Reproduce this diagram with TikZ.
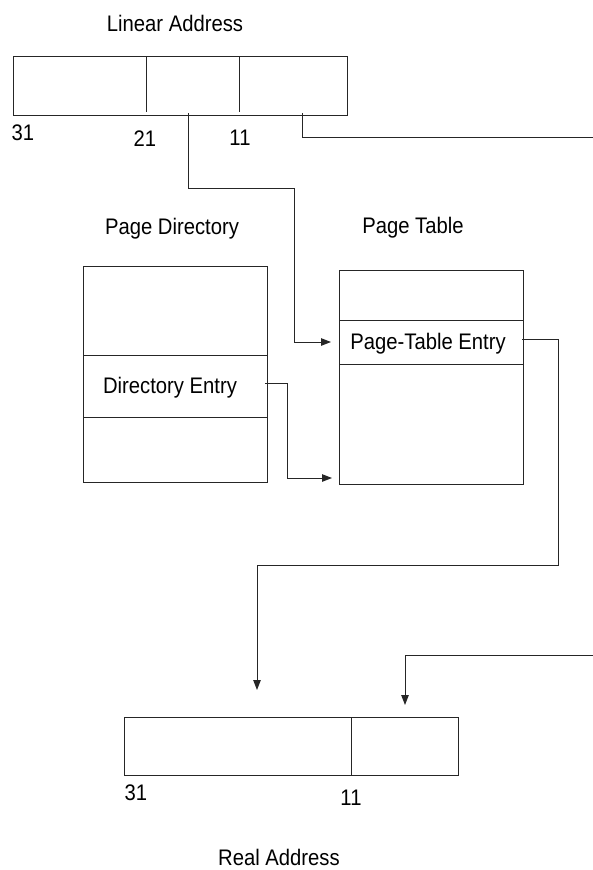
\documentclass[tikz,border=0pt]{standalone}
\usepackage{fontspec}
\setmainfont{Liberation Sans}[FakeStretch=0.9]
\usetikzlibrary{arrows.meta}
\begin{document}
\begin{tikzpicture}[x=1pt,y=-1pt,
  ln/.style={draw=black!85, line width=1pt},
  boxn/.style={ln, rectangle, inner sep=0pt, anchor=north west},
  lbl/.style={anchor=base, inner sep=0pt, font=\fontsize{22.5}{26}\selectfont},
  arr/.style={ln, -{Triangle[length=10pt,width=7.5pt]}, line join=miter}]
\useasboundingbox (0,0) rectangle (593,870);

% Linear address
\node[lbl] (tla) at (175,31) {Linear Address};
\node[boxn, minimum width=334pt, minimum height=59pt] (la) at (12.5,56) {};
\draw[ln] (146,56) -- (146,112);
\draw[ln] (239,56) -- (239,112);
\node[lbl] (l31) at (23,140) {31};
\node[lbl] (l21) at (145,146) {21};
\node[lbl] (l11) at (240,145) {11};

% Page directory
\node[lbl] (tpd) at (172,234) {Page Directory};
\node[boxn, minimum width=184pt, minimum height=216pt] (pd) at (83,266) {};
\draw[ln] (83,355) -- (267,355);
\draw[ln] (83,417) -- (267,417);
\node[lbl] (de) at (170,393) {Directory Entry};

% Page table
\node[lbl] (tpt) at (413,233) {Page Table};
\node[boxn, minimum width=184pt, minimum height=214pt] (pt) at (339,270) {};
\draw[ln] (339,320) -- (523,320);
\draw[ln] (339,364) -- (523,364);
\node[lbl] (pte) at (428,349) {Page-Table Entry};

% Real address
\node[boxn, minimum width=334pt, minimum height=58pt] (ra) at (124,717) {};
\draw[ln] (351,717) -- (351,775);
\node[lbl] (r31) at (136,800) {31};
\node[lbl] (r11) at (351,805) {11};
\node[lbl] (tra) at (279,865) {Real Address};

% connector end points
\coordinate (laMid) at (188,113);
\coordinate (laLow) at (302,113);
\coordinate (edgeTop) at (593,137);
\coordinate (edgeBot) at (593,655);
\coordinate (deOut) at (265,383);
\coordinate (pteOut) at (522,339);
\coordinate (ptIn1) at (331,342);
\coordinate (ptIn2) at (332,478);
\coordinate (raIn1) at (257,690);
\coordinate (raIn2) at (405,705);

% connectors
\draw[arr] (laMid) |- (294,188) |- (ptIn1);
\draw[ln] (laLow) |- (edgeTop);
\draw[arr] (deOut) -- (287,383) |- (ptIn2);
\draw[arr] (pteOut) -- (558,339) -- (558,565) -| (raIn1);
\draw[arr] (edgeBot) -| (raIn2);
\end{tikzpicture}
\end{document}
